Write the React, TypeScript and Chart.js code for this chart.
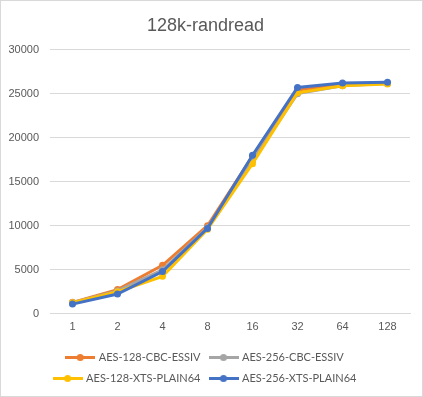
import React, { useEffect, useRef } from "react";
import { Chart, registerables } from "chart.js";

Chart.register(...registerables);

const categories = ["1", "2", "4", "8", "16", "32", "64", "128"];
const seriesNames = ["AES-128-CBC-ESSIV", "AES-256-CBC-ESSIV", "AES-128-XTS-PLAIN64", "AES-256-XTS-PLAIN64"];
const aes128cbc = [1300, 2750, 5500, 10000, 17900, 25400, 26000, 26200];
const aes256cbc = [1250, 2600, 5000, 9800, 17400, 25000, 25900, 26150];
const aes128xts = [1250, 2500, 4250, 9600, 17050, 25100, 25900, 26100];
const aes256xts = [1100, 2250, 4800, 9700, 18000, 25700, 26200, 26300];
const colors = ["#ED7D31", "#A5A5A5", "#FFC000", "#4472C4"];
const yTicks = { min: 0, max: 30000, step: 5000 };

const FONT = "'Liberation Sans', Arial, sans-serif";
const LEGEND_FONT = "Lato, 'Liberation Sans', Arial, sans-serif";
const TEXT = "#595959";

function makeMarker(color: string) {
  const c = document.createElement("canvas");
  c.width = 30;
  c.height = 9;
  const ctx = c.getContext("2d")!;
  ctx.strokeStyle = color;
  ctx.lineWidth = 3;
  ctx.beginPath();
  ctx.moveTo(0, 4.5);
  ctx.lineTo(30, 4.5);
  ctx.stroke();
  ctx.fillStyle = color;
  ctx.beginPath();
  ctx.arc(15, 4.5, 3.5, 0, Math.PI * 2);
  ctx.fill();
  return c;
}

export default function App() {
  const ref = useRef<HTMLCanvasElement>(null);
  useEffect(() => {
    const markers = colors.map(makeMarker);
    const values = [aes128cbc, aes256cbc, aes128xts, aes256xts];
    const chart = new Chart(ref.current!, {
      type: "line",
      data: {
        labels: categories,
        datasets: values.map((v, i) => ({
          label: seriesNames[i],
          data: v,
          borderColor: colors[i],
          backgroundColor: colors[i],
          borderWidth: 3,
          pointRadius: 3.5,
          pointBorderWidth: 0,
          pointBackgroundColor: colors[i],
          tension: 0,
          order: 3 - i,
        })),
      },
      options: {
        animation: false,
        responsive: false,
        layout: { padding: { left: 0, right: 12, top: 0, bottom: 2 } },
        plugins: {
          title: {
            display: true,
            text: "128k-randread",
            color: TEXT,
            font: { family: FONT, size: 18, weight: "normal" },
            padding: { top: 14, bottom: 13 },
          },
          legend: {
            position: "bottom",
            labels: {
              usePointStyle: true,
              pointStyleWidth: 26,
              color: TEXT,
              font: { family: LEGEND_FONT, size: 11 },
              padding: 10,
              sort: (a: any, b: any) => a.datasetIndex - b.datasetIndex,
              generateLabels: (ch: any) =>
                Chart.defaults.plugins.legend.labels
                  .generateLabels(ch)
                  .map((l: any) => ({ ...l, pointStyle: markers[l.datasetIndex] })),
            },
          },
          tooltip: { enabled: false },
        },
        scales: {
          x: {
            offset: true,
            grid: { display: false, drawTicks: false },
            border: { display: true, color: "#D9D9D9" },
            ticks: { color: TEXT, font: { family: FONT, size: 11 }, padding: 7 },
            afterFit: (s: any) => {
              s.height += 1;
            },
          },
          y: {
            min: yTicks.min,
            max: yTicks.max,
            ticks: {
              stepSize: yTicks.step,
              color: TEXT,
              font: { family: FONT, size: 11 },
              padding: 11,
              callback: (v: any) => String(v),
            },
            grid: { color: "#D9D9D9", drawTicks: false },
            border: { display: false },
            afterFit: (s: any) => {
              s.width = 49;
            },
          },
        },
      },
    });
    return () => chart.destroy();
  }, []);
  return (
    <div
      style={{
        position: "absolute",
        left: 0,
        top: 0,
        width: 423,
        height: 397,
        border: "1px solid #D9D9D9",
        boxSizing: "border-box",
        background: "#fff",
      }}
    >
      <canvas ref={ref} width={421} height={395} style={{ display: "block" }} />
    </div>
  );
}
